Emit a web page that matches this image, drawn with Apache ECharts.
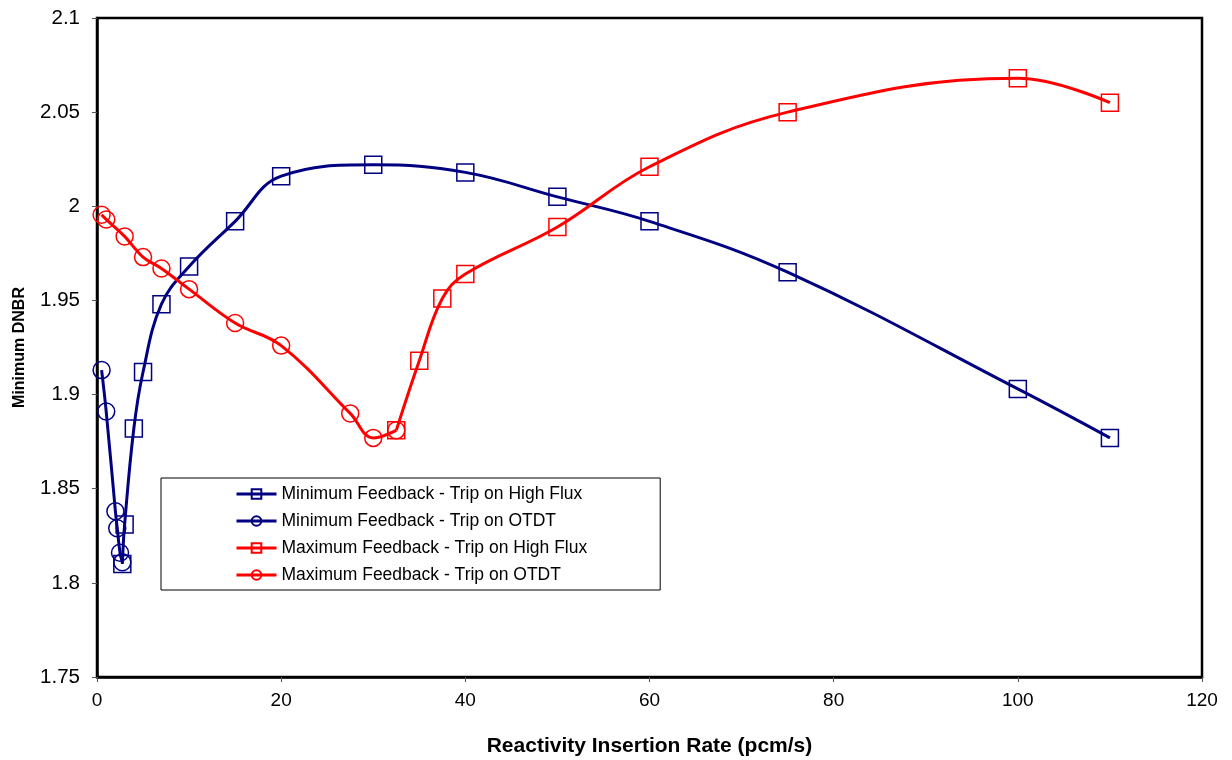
<!DOCTYPE html>
<html>
<head>
<meta charset="utf-8">
<title>Minimum DNBR vs Reactivity Insertion Rate</title>
<script src="https://cdn.jsdelivr.net/npm/echarts@6/dist/echarts.min.js"></script>
<style>
  html, body { margin: 0; padding: 0; background: #ffffff; }
  #chart { width: 1232px; height: 760px; }
</style>
</head>
<body>
<div id="chart"></div>
<script>
// Reactivity insertion rate (pcm/s) and minimum DNBR for each case
const minFbFluxX = [2.75, 3, 4, 5, 7, 10, 15, 20, 30, 40, 50, 60, 75, 100, 110];
const minFbFluxY = [1.810, 1.831, 1.882, 1.912, 1.948, 1.968, 1.992, 2.016, 2.022, 2.018, 2.005, 1.992, 1.965, 1.903, 1.877];

const minFbOtdtX = [0.5, 1, 2, 2.2, 2.5, 2.75];
const minFbOtdtY = [1.913, 1.891, 1.838, 1.829, 1.816, 1.811];

const maxFbFluxX = [32.5, 35, 37.5, 40, 50, 60, 75, 100, 110];
const maxFbFluxY = [1.881, 1.918, 1.951, 1.964, 1.989, 2.021, 2.050, 2.068, 2.055];

const maxFbOtdtX = [0.5, 1, 3, 5, 7, 10, 15, 20, 27.5, 30, 32.5];
const maxFbOtdtY = [1.9955, 1.993, 1.984, 1.973, 1.967, 1.956, 1.938, 1.926, 1.890, 1.877, 1.881];

const seriesNames = [
  'Minimum Feedback - Trip on High Flux',
  'Minimum Feedback - Trip on OTDT',
  'Maximum Feedback - Trip on High Flux',
  'Maximum Feedback - Trip on OTDT'
];

const NAVY = '#000080';
const RED = '#ff0000';
const FONT = '"Liberation Sans", Arial, sans-serif';

function pairs(xs, ys) {
  return xs.map((x, i) => [x, ys[i]]);
}

function lineSeries(name, xs, ys, color, symbol) {
  return {
    name: name,
    type: 'line',
    data: pairs(xs, ys),
    smooth: 0.4,
    symbol: symbol,
    symbolSize: 17,
    showAllSymbol: true,
    lineStyle: { color: color, width: 3 },
    itemStyle: { color: 'rgba(255,255,255,0)', borderColor: color, borderWidth: 1.5 },
    emphasis: { disabled: true },
    animation: false
  };
}

const chart = echarts.init(document.getElementById('chart'), null, { renderer: 'canvas' });

chart.setOption({
  backgroundColor: '#ffffff',
  animation: false,
  grid: {
    left: 97, right: 30, top: 18, bottom: 83,
    outerBoundsMode: 'none',
    containLabel: false,
    show: true,
    borderColor: '#000000',
    borderWidth: 2.5,
    backgroundColor: 'transparent'
  },
  legend: {
    orient: 'vertical',
    left: 161,
    top: 478,
    padding: [7, 73, 6, 74],
    itemWidth: 40,
    itemHeight: 12,
    itemGap: 9,
    itemTextGap: 3,
    borderColor: '#000000',
    borderWidth: 1,
    backgroundColor: '#ffffff',
    lineStyle: { width: 3 },
    textStyle: { fontFamily: FONT, fontSize: 17.5, color: '#000000', lineHeight: 18 },
    data: seriesNames
  },
  xAxis: {
    type: 'value',
    min: 0,
    max: 120,
    interval: 20,
    name: 'Reactivity Insertion Rate (pcm/s)',
    nameLocation: 'middle',
    nameGap: 59,
    nameTextStyle: { fontFamily: FONT, fontSize: 21, fontWeight: 'bold', color: '#000000' },
    axisLine: { show: true, lineStyle: { color: '#000000', width: 2.5 } },
    axisTick: { show: true, inside: false, length: 5, lineStyle: { color: '#555555', width: 1 } },
    axisLabel: { fontFamily: FONT, fontSize: 19, color: '#000000', margin: 14 },
    splitLine: { show: false }
  },
  yAxis: {
    type: 'value',
    min: 1.75,
    max: 2.1,
    interval: 0.05,
    name: 'Minimum DNBR',
    nameLocation: 'middle',
    nameGap: 69,
    nameTextStyle: { fontFamily: FONT, fontSize: 16, fontWeight: 'bold', color: '#000000' },
    axisLine: { show: true, lineStyle: { color: '#000000', width: 2.5 } },
    axisTick: { show: true, inside: false, length: 5, lineStyle: { color: '#555555', width: 1 } },
    axisLabel: {
      fontFamily: FONT, fontSize: 20.5, color: '#000000', margin: 17,
      formatter: function (v) { return String(parseFloat(v.toFixed(2))); }
    },
    splitLine: { show: false }
  },
  series: [
    lineSeries(seriesNames[0], minFbFluxX, minFbFluxY, NAVY, 'rect'),
    lineSeries(seriesNames[1], minFbOtdtX, minFbOtdtY, NAVY, 'circle'),
    lineSeries(seriesNames[2], maxFbFluxX, maxFbFluxY, RED, 'rect'),
    lineSeries(seriesNames[3], maxFbOtdtX, maxFbOtdtY, RED, 'circle')
  ]
});
</script>
</body>
</html>
